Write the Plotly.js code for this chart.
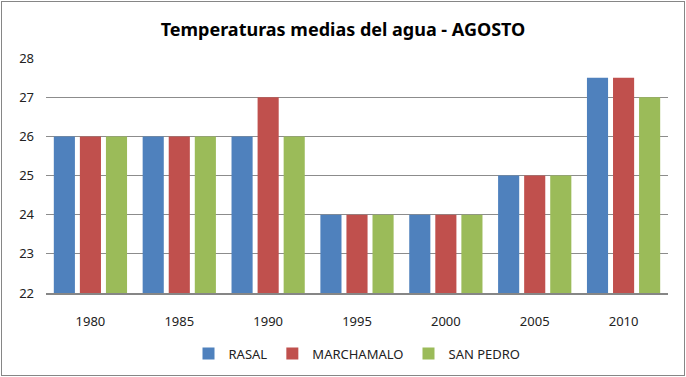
<!DOCTYPE html>
<html>
<head>
<meta charset="utf-8">
<script src="https://cdn.plot.ly/plotly-3.0.1.min.js"></script>
<style>
html,body{margin:0;padding:0;background:#fff;}
#wrap{position:relative;width:686px;height:377px;}
#chart{width:686px;height:377px;}
#frame{position:absolute;left:1px;top:1px;width:682px;height:373px;border:1px solid #868686;pointer-events:none;}
</style>
</head>
<body>
<div id="wrap"><div id="chart"></div><div id="frame"></div></div>
<script>
const years = ['1980','1985','1990','1995','2000','2005','2010'];
const rasal = [26, 26, 26, 24, 24, 25, 27.5];
const marchamalo = [26, 26, 27, 24, 24, 25, 27.5];
const sanPedro = [26, 26, 26, 24, 24, 25, 27];
const yTicks = [22, 23, 24, 25, 26, 27, 28];

const font = 'Noto Sans, Open Sans, sans-serif';
const mk = (name, y, color) => ({type:'bar', name, x: years, y, base: 0, marker:{color, line:{width:0}}});

const data = [
  mk('RASAL', rasal, '#4F81BD'),
  mk('MARCHAMALO', marchamalo, '#C0504D'),
  mk('SAN PEDRO', sanPedro, '#9BBB59')
];

const layout = {
  width: 686, height: 377,
  margin: {l: 46, r: 18, t: 58, b: 84, autoexpand: false},
  paper_bgcolor: '#fff', plot_bgcolor: '#fff',
  title: {text: '<b>Temperaturas medias del agua - AGOSTO</b>', x: 0.5, xanchor: 'center', y: 0.922, yanchor: 'middle', font: {family: font, size: 18, color: '#000'}},
  barmode: 'group', bargap: 0.12, bargroupgap: 0.19,
  xaxis: {type: 'category', showgrid: false, showline: true, linecolor: '#868686', linewidth: 2, ticks: '', ticklabelstandoff: 15, tickfont: {family: font, size: 13, color: '#222'}, zeroline: false, automargin: false},
  yaxis: {range: [22, 28.004], tickvals: yTicks, ticktext: yTicks.map(String), showgrid: true, gridcolor: '#8c8c8c', gridwidth: 1, showline: false, zeroline: false, ticks: '', ticklabelstandoff: 11, tickfont: {family: font, size: 13, color: '#222'}, automargin: false},
  showlegend: true,
  legend: {orientation: 'h', x: 0.5, xanchor: 'center', yref: 'container', y: 0.062, yanchor: 'middle', font: {family: font, size: 13, color: '#222'}, itemwidth: 30, traceorder: 'normal'}
};

Plotly.newPlot('chart', data, layout, {displayModeBar: false, staticPlot: true});
</script>
</body>
</html>
